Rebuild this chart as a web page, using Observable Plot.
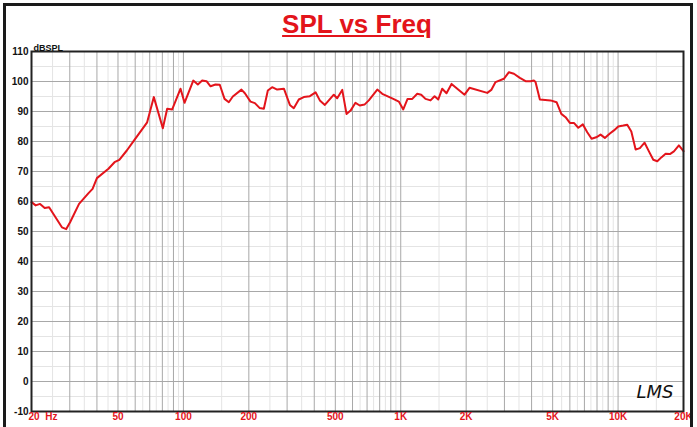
<!DOCTYPE html>
<html><head><meta charset="utf-8">
<script src="https://cdn.jsdelivr.net/npm/d3@7"></script>
<script src="https://cdn.jsdelivr.net/npm/@observablehq/plot@0.6"></script>
<style>
html,body{margin:0;padding:0;background:#fff;}
#wrap{position:relative;width:697px;height:427px;overflow:hidden;font-family:"Liberation Sans",Arial,sans-serif;}
#chart{position:absolute;left:0;top:0;}
#border{position:absolute;left:3px;top:3px;width:690px;height:440px;border:3px solid #1a1a1a;box-sizing:border-box;pointer-events:none;}
#title{position:absolute;left:0;width:714px;top:11px;text-align:center;font-size:26px;font-weight:bold;color:#e3141b;line-height:26px;text-decoration:underline;}
</style></head><body>
<div id="wrap"><div id="chart"></div><div id="border"></div><div id="title">SPL vs Freq</div></div>
<script>
const freq = [
  20, 20.9, 21.9, 23, 24.1, 27.6, 28.9, 30.1, 33.1, 36.6,
  38.2, 40, 45.2, 48.2, 50.7, 54.9, 59.2, 68.1, 73.1, 80.4,
  84.2, 88.8, 97, 101.2, 111, 116.5, 122, 127.7, 133.3, 140.5,
  147, 154.6, 161.8, 168.8, 185, 191.8, 203.6, 213.2, 224, 234.5,
  244.6, 256, 270, 290, 308.9, 322, 339.6, 358, 381.8, 405.6,
  424.4, 447.6, 492, 510, 538, 563, 587.6, 619, 648, 681,
  713, 780, 822, 924, 980, 1027, 1075, 1130, 1191, 1242,
  1300, 1371, 1431, 1488, 1552, 1624, 1713, 1820, 1966, 2072,
  2501, 2610, 2730, 2982, 3146, 3317, 3532, 3752, 3956, 4098,
  4170, 4366, 4890, 5212, 5480, 5734, 6000, 6262, 6561, 6888,
  7214, 7552, 7935, 8308, 8692, 9140, 9571, 10020, 10568, 11020,
  11506, 12044, 12600, 13244, 13866, 14522, 15152, 15812, 16548, 17318,
  18072, 19048, 20000
];
const spl = [
  59.8, 58.7, 59.2, 57.8, 58.1, 51.4, 50.8, 53.1, 59.2, 62.8,
  64.2, 67.8, 70.9, 73.1, 73.9, 77, 80.3, 86.4, 94.8, 84.4,
  90.9, 90.7, 97.6, 92.9, 100.3, 99, 100.3, 100.1, 98.4, 99,
  98.9, 94.2, 93.1, 95, 97.3, 96.1, 93.3, 92.8, 91.2, 90.9,
  97, 98.1, 97.3, 97.6, 92.2, 91.1, 94, 94.8, 95.1, 96.4,
  93.7, 92.2, 95.6, 94.4, 97.2, 89.2, 90.3, 92.9, 92, 92.3,
  93.7, 97.3, 95.9, 94.2, 93.3, 90.7, 94.2, 94.2, 95.9, 95.6,
  94.2, 93.7, 95.1, 94, 97.6, 96.1, 99.2, 97.6, 95.6, 97.9,
  96.2, 97.2, 99.8, 100.9, 103.1, 102.6, 101.2, 100.1, 100.1, 100.3,
  99.8, 94, 93.7, 93.1, 89.2, 88.1, 86.2, 86.2, 84.6, 85.7,
  83.1, 80.9, 81.4, 82.3, 81.2, 82.6, 83.7, 85, 85.3, 85.6,
  83.3, 77.3, 77.8, 79.6, 76.7, 73.9, 73.4, 74.7, 75.9, 75.8,
  76.7, 78.7, 76.8
];
const xTickValues = [20, 50, 100, 200, 500, 1000, 2000, 5000, 10000, 20000];
const xTickLabels = ["20\u00a0\u00a0Hz", "50", "100", "200", "500", "1K", "2K", "5K", "10K", "20K"];
const yTickValues = [-10, 0, 10, 20, 30, 40, 50, 60, 70, 80, 90, 100, 110];
const yUnit = "dBSPL";
const logo = "LMS";

const data = freq.map((f, i) => ({f, db: spl[i]}));
const decades = [10, 100, 1000, 10000];
const majorX = [], minorX = [];
for (const d of decades) for (let k = 1; k <= 9; k++) {
  if (d * k >= 20 && d * k <= 20000) majorX.push(d * k);
  if (d * (k + 0.5) > 20 && d * (k + 0.5) < 20000) minorX.push(d * (k + 0.5));
}
const minorY = yTickValues.slice(0, -1).map(v => v + 5);

const font = "Liberation Sans, Arial, sans-serif";
const red = "#e3141b";

const chart = Plot.plot({
  width: 697, height: 427,
  marginLeft: 31, marginRight: 14, marginTop: 51, marginBottom: 16,
  style: {fontFamily: font, background: "#fff"},
  x: {type: "log", domain: [20, 20000], axis: null},
  y: {domain: [-10, 110], axis: null},
  marks: [
    Plot.ruleX(minorX, {stroke: "#e4e4e4", strokeWidth: 1}),
    Plot.ruleY(minorY, {stroke: "#e4e4e4", strokeWidth: 1}),
    Plot.ruleX(majorX, {stroke: "#a8a8a8", strokeWidth: 1}),
    Plot.ruleY(yTickValues, {stroke: "#a8a8a8", strokeWidth: 1}),
    Plot.line(data, {x: "f", y: "db", stroke: red, strokeWidth: 2}),
    Plot.frame({stroke: "#222", strokeWidth: 2}),
    Plot.text(yTickValues, {y: d => d, text: d => String(d), frameAnchor: "left", dx: -3, textAnchor: "end",
      fontSize: 10, fontWeight: "bold", fill: "#111", fontFamily: font}),
    Plot.text(xTickValues.slice(1), {x: d => d, text: (d, i) => xTickLabels[i + 1], frameAnchor: "bottom", dy: 8,
      fontSize: 10, fontWeight: "bold", fill: red, fontFamily: font}),
    Plot.text(xTickValues.slice(0, 1), {x: d => d, text: (d, i) => xTickLabels[i], frameAnchor: "bottom", dy: 8, dx: -3,
      textAnchor: "start", fontSize: 10, fontWeight: "bold", fill: red, fontFamily: font}),
    Plot.text([yUnit], {frameAnchor: "top-left", dx: 2, dy: -7, textAnchor: "start",
      fontSize: 9, fontWeight: "bold", fill: "#111", fontFamily: font}),
    Plot.text([logo], {frameAnchor: "bottom-right", dx: -10, dy: -14, textAnchor: "end",
      fontSize: 18, fontStyle: "italic", fill: "#111", fontFamily: "DejaVu Sans, sans-serif", fontWeight: "normal"})
  ]
});
document.getElementById("chart").appendChild(chart);
</script>
</body></html>
